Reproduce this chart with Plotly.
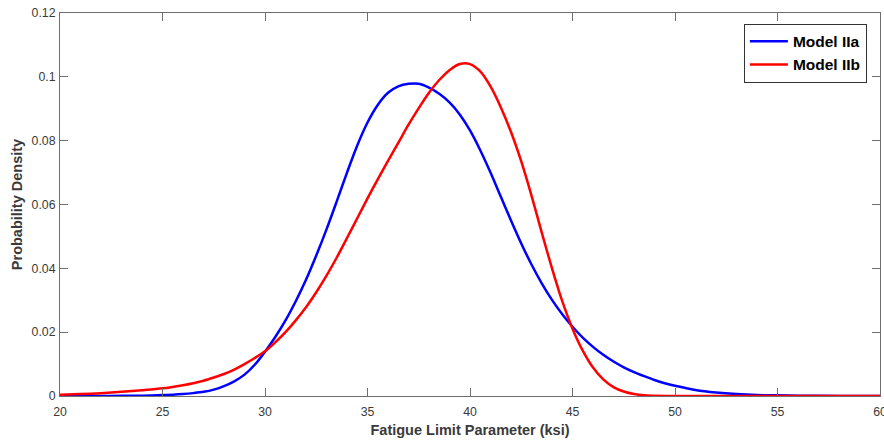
import plotly.graph_objects as go

# Model IIa (blue) values
x_a = [20, 21, 22, 23, 24, 25, 25.5, 26, 26.5, 27, 27.5, 28, 28.5, 29, 29.5, 30, 30.5, 31,
       31.5, 32, 32.5, 33, 33.5, 34, 34.5, 35, 35.5, 36, 36.5, 37, 37.5, 38, 38.5,
       39, 39.5, 40, 40.5, 41, 41.5, 42, 42.5, 43, 43.5, 44, 44.5, 45, 45.5, 46, 46.5,
       47, 47.5, 48, 48.5, 49, 49.5, 50, 51, 52, 53, 54, 55, 56, 58, 60]
y_a = [0.0, 0.0, 0.00002, 0.00005, 0.0001, 0.0003, 0.0004, 0.0006, 0.0009, 0.0013,
       0.0020, 0.0031, 0.0046, 0.0067, 0.0098, 0.0139, 0.0185, 0.0237, 0.0297, 0.0364,
       0.0440, 0.0522, 0.0610, 0.0700, 0.0785, 0.0857, 0.0912, 0.0950, 0.0970, 0.0978,
       0.0978, 0.0966, 0.0947, 0.0920, 0.0882, 0.0832, 0.0770, 0.0700, 0.0625, 0.0550,
       0.0478, 0.0412, 0.0353, 0.0301, 0.0256, 0.0217, 0.0183, 0.0154, 0.0129, 0.0108,
       0.0090, 0.0075, 0.0062, 0.0050, 0.0040, 0.0032, 0.0019, 0.0011, 0.0006, 0.0003,
       0.0002, 0.0001, 0.00002, 0.0]

# Model IIb (red) values
x_b = [20, 21, 22, 23, 24, 25, 26, 26.5, 27, 27.5, 28, 28.5, 29, 29.5, 30, 30.5, 31, 31.5,
       32, 32.5, 33, 33.5, 34, 34.5, 35, 35.5, 36, 36.5, 37, 37.5, 38, 38.5, 39, 39.5, 40,
       40.5, 41, 41.5, 42, 42.5, 43, 43.5, 44, 44.5, 45, 45.5, 46, 46.5, 47, 47.5, 48,
       48.5, 49, 50, 52, 60]
y_b = [0.0004, 0.0006, 0.0009, 0.0013, 0.0018, 0.0024, 0.0034, 0.0040, 0.0048, 0.0058,
       0.0069, 0.0083, 0.0100, 0.0119, 0.0140, 0.0168, 0.0200, 0.0237, 0.0278, 0.0325,
       0.0377, 0.0434, 0.0495, 0.0557, 0.0619, 0.0679, 0.0737, 0.0793, 0.0850, 0.0902,
       0.0950, 0.0990, 0.1021, 0.1040, 0.1040, 0.1017, 0.0970, 0.0905, 0.0827, 0.0735,
       0.0628, 0.0512, 0.0400, 0.0297, 0.0211, 0.0142, 0.0089, 0.0052, 0.0028, 0.0014,
       0.0006, 0.0002, 0.0001, 0.0, 0.0, 0.0]

series_names = ["Model IIa", "Model IIb"]
x_ticks = [20, 25, 30, 35, 40, 45, 50, 55, 60]
y_ticks = [0, 0.02, 0.04, 0.06, 0.08, 0.1, 0.12]
y_tick_text = ["0", "0.02", "0.04", "0.06", "0.08", "0.1", "0.12"]

axis_col = "#6e6e6e"
text_col = "#3a3a3a"
font_fam = "Liberation Sans, Arial, sans-serif"

fig = go.Figure()
fig.add_trace(go.Scatter(x=x_a, y=y_a, mode="lines", name=series_names[0],
                         line=dict(color="#0000ff", width=2.5, shape="spline", smoothing=0.8)))
fig.add_trace(go.Scatter(x=x_b, y=y_b, mode="lines", name=series_names[1],
                         line=dict(color="#ff0000", width=2.5, shape="spline", smoothing=0.8)))

fig.update_layout(
    width=884, height=441,
    margin=dict(l=60, r=4, t=13, b=45, autoexpand=False),
    paper_bgcolor="white", plot_bgcolor="white",
    font=dict(family=font_fam, size=12, color=text_col),
    showlegend=True,
    legend=dict(x=0.984, y=0.972, xanchor="right", yanchor="top",
                bgcolor="white", bordercolor="#333333", borderwidth=1,
                font=dict(family=font_fam, size=15.5, color="black", weight="bold"),
                tracegroupgap=0, itemwidth=38),
    xaxis=dict(range=[20, 60], tickvals=x_ticks, ticks="inside", ticklen=8,
               tickcolor=axis_col, showline=True, linecolor=axis_col, linewidth=1,
               mirror="ticks", showgrid=False, zeroline=False, automargin=False,
               ticklabelstandoff=4, ticklabeloverflow="allow",
               tickfont=dict(size=12.3, color=text_col),
               title=dict(text="<b>Fatigue Limit Parameter (ksi)</b>", standoff=7,
                          font=dict(size=14.5, color=text_col))),
    yaxis=dict(range=[0, 0.12], tickvals=y_ticks, ticktext=y_tick_text, ticks="inside",
               ticklen=8, tickcolor=axis_col, showline=True, linecolor=axis_col,
               linewidth=1, mirror="ticks", showgrid=False, zeroline=False,
               automargin=False, ticklabelstandoff=1,
               tickfont=dict(size=12.3, color=text_col),
               title=dict(text="<b>Probability Density</b>", standoff=5,
                          font=dict(size=14.5, color=text_col))),
)

fig.write_html("out.html", config={"displayModeBar": False},
               post_script="document.body.style.margin='0';document.body.style.overflow='hidden';")
